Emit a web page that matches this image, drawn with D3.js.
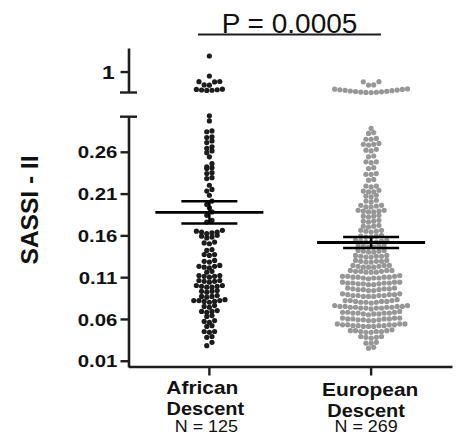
<!DOCTYPE html>
<html>
<head>
<meta charset="utf-8">
<script src="https://cdn.jsdelivr.net/npm/d3@7"></script>
<style>
  html, body { margin: 0; padding: 0; background: #fff; }
  svg { display: block; font-family: "Liberation Sans", Arial, sans-serif; }
</style>
</head>
<body>
<svg id="chart" width="460" height="435"></svg>
<script>
// ---------------- data ----------------
const categories = ["African Descent", "European Descent"];
const catLine1 = ["African", "European"];
const catLine2 = ["Descent", "Descent"];
const nLabels = ["N = 125", "N = 269"];
const yLabel = "SASSI - II";
const pLabel = "P = 0.0005";

const lowerTicks = [0.01, 0.06, 0.11, 0.16, 0.21, 0.26];
const upperTicks = [1];

const meanValues = [0.1875, 0.1515];
const semValues = [0.0133, 0.0066];

const africanValues = [
  1.297, 0.915, 0.810, 0.806, 0.802, 0.745, 0.740, 0.640, 0.643, 0.648, 0.653, 0.658, 0.663,
  0.303, 0.297, 0.285, 0.284, 0.278, 0.277, 0.273, 0.271, 0.266, 0.264, 0.261, 0.259, 0.254, 0.246,
  0.242, 0.241, 0.240, 0.235, 0.234, 0.229, 0.228, 0.220, 0.215, 0.213, 0.208,
  0.201, 0.197, 0.193, 0.188, 0.184, 0.178, 0.176,
  0.166, 0.165, 0.164, 0.164, 0.163, 0.162,
  0.160, 0.159, 0.158, 0.157,
  0.152, 0.151, 0.150,
  0.143, 0.142,
  0.137, 0.137, 0.136,
  0.130, 0.129, 0.128,
  0.124, 0.123, 0.123, 0.122, 0.121,
  0.117, 0.116,
  0.112, 0.112, 0.111, 0.111, 0.110,
  0.106, 0.106, 0.105, 0.105, 0.104,
  0.100, 0.100, 0.099, 0.099, 0.098, 0.098,
  0.094, 0.093, 0.093, 0.092,
  0.088, 0.087, 0.087, 0.086,
  0.083, 0.082, 0.082, 0.082, 0.081, 0.081, 0.080,
  0.076, 0.075, 0.074,
  0.070, 0.069, 0.069, 0.068,
  0.064, 0.063,
  0.058, 0.057, 0.056,
  0.052, 0.051,
  0.045, 0.045, 0.044,
  0.039, 0.038,
  0.032, 0.028
];

const europeanValues = [
  0.806, 0.803, 0.745, 0.742,
  0.600, 0.602, 0.605, 0.609, 0.613, 0.618, 0.623, 0.629, 0.635, 0.641, 0.647, 0.653, 0.659, 0.664, 0.668,
  0.288,
  0.283, 0.282,
  0.276, 0.275, 0.275,
  0.270, 0.269, 0.269, 0.268,
  0.263, 0.262, 0.261,
  0.255, 0.254,
  0.248, 0.248, 0.247,
  0.241, 0.240,
  0.234, 0.233, 0.233,
  0.227, 0.226,
  0.219, 0.219, 0.218,
  0.214, 0.213, 0.212, 0.212,
  0.208, 0.207, 0.206,
  0.202, 0.201, 0.200,
  0.196, 0.196, 0.195, 0.194, 0.194,
  0.190, 0.190, 0.189, 0.189, 0.188, 0.188,
  0.184, 0.183, 0.183, 0.182,
  0.178, 0.177, 0.177, 0.176,
  0.172, 0.171, 0.171, 0.170,
  0.166, 0.166, 0.165, 0.165, 0.164,
  0.160, 0.159, 0.159, 0.158, 0.158,
  0.154, 0.154, 0.153, 0.153, 0.152, 0.152, 0.152,
  0.148, 0.148, 0.147, 0.147, 0.146, 0.146,
  0.142, 0.142, 0.141, 0.141, 0.140, 0.140,
  0.136, 0.136, 0.135, 0.135, 0.135, 0.134, 0.134,
  0.130, 0.130, 0.129, 0.129, 0.129, 0.128, 0.128,
  0.124, 0.124, 0.124, 0.123, 0.123, 0.122, 0.122, 0.122,
  0.118, 0.118, 0.118, 0.117, 0.117, 0.117, 0.116, 0.116, 0.116,
  0.112, 0.111, 0.111, 0.111, 0.110, 0.110, 0.110, 0.110, 0.109, 0.109, 0.109, 0.108,
  0.104, 0.104, 0.104, 0.103, 0.103, 0.103, 0.103, 0.102, 0.102, 0.102, 0.101, 0.101,
  0.097, 0.097, 0.096, 0.096, 0.096, 0.095, 0.095, 0.095, 0.094, 0.094,
  0.090, 0.090, 0.089, 0.089, 0.089, 0.088, 0.088, 0.088, 0.088, 0.087, 0.087, 0.087,
  0.083, 0.082, 0.082, 0.082, 0.081, 0.081, 0.081, 0.080, 0.080, 0.080, 0.079,
  0.076, 0.076, 0.075, 0.075, 0.075, 0.075, 0.074, 0.074, 0.074, 0.074, 0.073, 0.073, 0.073, 0.073, 0.072,
  0.069, 0.068, 0.068, 0.068, 0.067, 0.067, 0.067, 0.067, 0.066, 0.066, 0.066, 0.065,
  0.061, 0.061, 0.061, 0.060, 0.060, 0.060, 0.060, 0.059, 0.059, 0.059, 0.058, 0.058,
  0.054, 0.054, 0.054, 0.053, 0.053, 0.053, 0.053, 0.052, 0.052, 0.052, 0.052, 0.051, 0.051, 0.051,
  0.047, 0.046, 0.046, 0.046, 0.045, 0.045, 0.045, 0.044, 0.044,
  0.039, 0.039, 0.038, 0.038, 0.037,
  0.032, 0.031, 0.031,
  0.026, 0.025
];

const seriesValues = [africanValues, europeanValues];
const dotColors = ["#1c1c1c", "#979797"];

// ---------------- layout ----------------
const svg = d3.select("#chart");
const axisX = 128.5;
const ink = "#1e1e1e";

const x = d3.scaleBand().domain(categories).range([axisX, 452]).padding(0);
const cx = c => x(c) + x.bandwidth() / 2;

const yLower = d3.scaleLinear().domain([0.0025, 0.302]).range([367, 116.7]);
const yUpper = d3.scaleLinear().domain([0.6, 1.45]).range([92.5, 48]);
const yOf = v => (v >= 0.5 ? yUpper(v) : yLower(v));

// --- y axis: lower segment
const gLow = svg.append("g").attr("transform", `translate(${axisX},0)`)
  .call(d3.axisLeft(yLower).tickValues(lowerTicks).tickFormat(d3.format(".2f")).tickSize(8).tickSizeOuter(0));
// --- y axis: upper segment
const gUp = svg.append("g").attr("transform", `translate(${axisX},0)`)
  .call(d3.axisLeft(yUpper).tickValues(upperTicks).tickFormat(d3.format("d")).tickSize(8).tickSizeOuter(0));

[gLow, gUp].forEach(g => {
  g.select(".domain").attr("stroke", ink).attr("stroke-width", 2.6);
  g.selectAll(".tick line").attr("stroke", ink).attr("stroke-width", 2.4);
  g.selectAll(".tick text")
    .attr("fill", "#111").attr("font-weight", "bold").attr("font-size", 17)
    .attr("x", -9.3).attr("dy", "0.36em")
    .attr("transform", "scale(1.2,1)");
});
gUp.selectAll(".tick text").attr("font-size", 19).attr("x", -11.5);

// axis break caps
[yUpper.range()[0], yLower.range()[1]].forEach(yy => {
  svg.append("line").attr("x1", axisX - 8.5).attr("x2", axisX + 8.5)
    .attr("y1", yy).attr("y2", yy).attr("stroke", ink).attr("stroke-width", 2.4);
});

// --- x axis
const gx = svg.append("g").attr("transform", "translate(0,366.5)")
  .call(d3.axisBottom(x).tickSize(9).tickSizeOuter(0).tickFormat(""));
gx.select(".domain").attr("stroke", ink).attr("stroke-width", 2.6);
gx.selectAll(".tick line").attr("stroke", ink).attr("stroke-width", 2.4);

// category labels
const l1Y = [393.5, 395.5], l2Y = [414.5, 416.5], nY = [431.5, 431.5];
const l1dx = [-7, -1], l2dx = [-4, -5], ndx = [-3, -5];
categories.forEach((c, i) => {
  const xc = cx(c);
  svg.append("text").attr("transform", `translate(${xc + l1dx[i]},${l1Y[i]}) scale(1.1,1)`)
    .attr("text-anchor", "middle").attr("font-weight", "bold").attr("font-size", 19).attr("fill", "#111")
    .text(catLine1[i]);
  svg.append("text").attr("transform", `translate(${xc + l2dx[i]},${l2Y[i]}) scale(1.05,1)`)
    .attr("text-anchor", "middle").attr("font-weight", "bold").attr("font-size", 19).attr("fill", "#111")
    .text(catLine2[i]);
  svg.append("text").attr("transform", `translate(${xc + ndx[i]},${nY[i]}) scale(1.12,1)`)
    .attr("text-anchor", "middle").attr("font-size", 16).attr("fill", "#111")
    .text(nLabels[i]);
});

// y label
svg.append("text").attr("transform", "translate(37.5,210) rotate(-90)")
  .attr("text-anchor", "middle").attr("font-weight", "bold").attr("font-size", 24.5).attr("fill", "#111")
  .text(yLabel);

// --- dots: row-based scatter (Prism style)
const dx = 5.2, r = 2.6;
function layoutRows(values) {
  const pts = values.map(v => ({ v, y: yOf(v), seg: v >= 0.5 ? 1 : 0 }))
    .sort((a, b) => a.y - b.y);
  const rows = [];
  let cur = null;
  pts.forEach(p => {
    if (!cur || p.seg !== cur.seg || p.y - cur.y0 > 3.8) {
      cur = { y0: p.y, seg: p.seg, pts: [] };
      rows.push(cur);
    }
    cur.pts.push(p);
  });
  const out = [];
  rows.forEach(row => {
    const n = row.pts.length;
    const slots = d3.range(n).map(i => (i - (n - 1) / 2) * dx)
      .sort((a, b) => Math.abs(a) - Math.abs(b) || a - b);
    const sorted = row.pts.slice().sort((a, b) => a.v - b.v);
    sorted.forEach((p, i) => out.push({ v: p.v, off: slots[i] }));
  });
  return out;
}

categories.forEach((c, i) => {
  const pts = layoutRows(seriesValues[i]);
  svg.append("g").selectAll("circle").data(pts).join("circle")
    .attr("cx", d => cx(c) + d.off)
    .attr("cy", d => yOf(d.v))
    .attr("r", r)
    .attr("fill", dotColors[i]);
});

// --- mean and SEM bars
categories.forEach((c, i) => {
  const xc = cx(c);
  const m = meanValues[i], s = semValues[i];
  const g = svg.append("g").attr("stroke", "#000");
  g.append("line").attr("x1", xc - 54).attr("x2", xc + 54)
    .attr("y1", yLower(m)).attr("y2", yLower(m)).attr("stroke-width", 2.8);
  g.append("line").attr("x1", xc).attr("x2", xc)
    .attr("y1", yLower(m + s)).attr("y2", yLower(m - s)).attr("stroke-width", 2.4);
  [m + s, m - s].forEach(v => {
    g.append("line").attr("x1", xc - 28).attr("x2", xc + 28)
      .attr("y1", yLower(v)).attr("y2", yLower(v)).attr("stroke-width", 2.4);
  });
});

// --- significance bracket
svg.append("line").attr("x1", 198).attr("x2", 381).attr("y1", 34.5).attr("y2", 34.5)
  .attr("stroke", ink).attr("stroke-width", 2);
svg.append("text").attr("x", 289.5).attr("y", 32.5).attr("text-anchor", "middle")
  .attr("font-size", 28).attr("fill", "#111").text(pLabel);
</script>
</body>
</html>
